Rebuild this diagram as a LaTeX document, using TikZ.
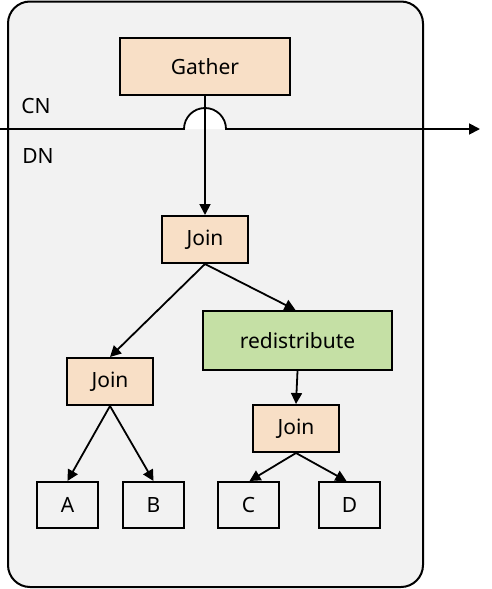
\documentclass[tikz,border=0pt]{standalone}
\usepackage{fontspec}
\setmainfont{Noto Sans}
\usetikzlibrary{arrows.meta}
\definecolor{panel}{HTML}{F2F2F2}
\definecolor{peach}{HTML}{F8DFC6}
\definecolor{leaf}{HTML}{C5E0A5}
\tikzset{
  box/.style={draw=black, line width=2pt, inner sep=0pt, font=\fontsize{21}{25}\selectfont},
  opbox/.style={box, fill=peach},
  redbox/.style={box, fill=leaf},
  leafbox/.style={box, fill=none},
  conn/.style={line width=1.8pt, -{Triangle[length=11pt,width=11pt]}},
  lbl/.style={font=\fontsize{21}{25}\selectfont, inner sep=0pt}
}
\begin{document}
\begin{tikzpicture}[x=1pt,y=-1pt]
\useasboundingbox (0,0) rectangle (492,589);
\draw[line width=2pt, fill=panel, rounded corners=22pt] (8,1.5) rectangle (423,587);
% nodes
\node[opbox, minimum width=170pt, minimum height=57pt] (gather) at (205,66.5) {Gather};
\node[opbox, minimum width=86pt, minimum height=47pt] (join1) at (205,239.5) {Join};
\node[redbox, minimum width=189pt, minimum height=59pt] (redis) at (297.5,340.5) {redistribute};
\node[opbox, minimum width=86pt, minimum height=47pt] (join2) at (110,381.5) {Join};
\node[opbox, minimum width=86pt, minimum height=47pt] (join3) at (296,428.5) {Join};
\node[leafbox, minimum width=61pt, minimum height=46pt] (a) at (67.5,505) {A};
\node[leafbox, minimum width=61pt, minimum height=46pt] (b) at (153.5,505) {B};
\node[leafbox, minimum width=61pt, minimum height=46pt] (c) at (248.5,505) {C};
\node[leafbox, minimum width=61pt, minimum height=46pt] (d) at (349.5,505) {D};
\node[lbl] (cn) at (36,106) {CN};
\node[lbl] (dn) at (38,156) {DN};
% CN/DN boundary line with hop
\coordinate (lstart) at (0,129);
\coordinate (hopl) at (184,129);
\coordinate (hopr) at (226,129);
\coordinate (lend) at (480,129);
\fill[white] (hopl) arc[start angle=180, end angle=0, radius=21pt] -- cycle;
\draw[line width=1.8pt, -{Triangle[length=11pt,width=11pt]}] (lstart) -- (hopl) arc[start angle=180, end angle=0, radius=21pt] -- (lend);
% connectors
\draw[conn] (gather.south) -- (join1.north);
\draw[conn] (join1.south) -- (join2.north);
\draw[conn] (join1.south) -- ([xshift=-2pt]redis.north);
\draw[conn] (redis.south) -- (join3.north);
\draw[conn] (join2.south) -- (a.north);
\draw[conn] (join2.south) -- (b.north);
\draw[conn] (join3.south) -- ([xshift=1pt]c.north);
\draw[conn] (join3.south) -- ([xshift=-3pt]d.north);
\end{tikzpicture}
\end{document}
